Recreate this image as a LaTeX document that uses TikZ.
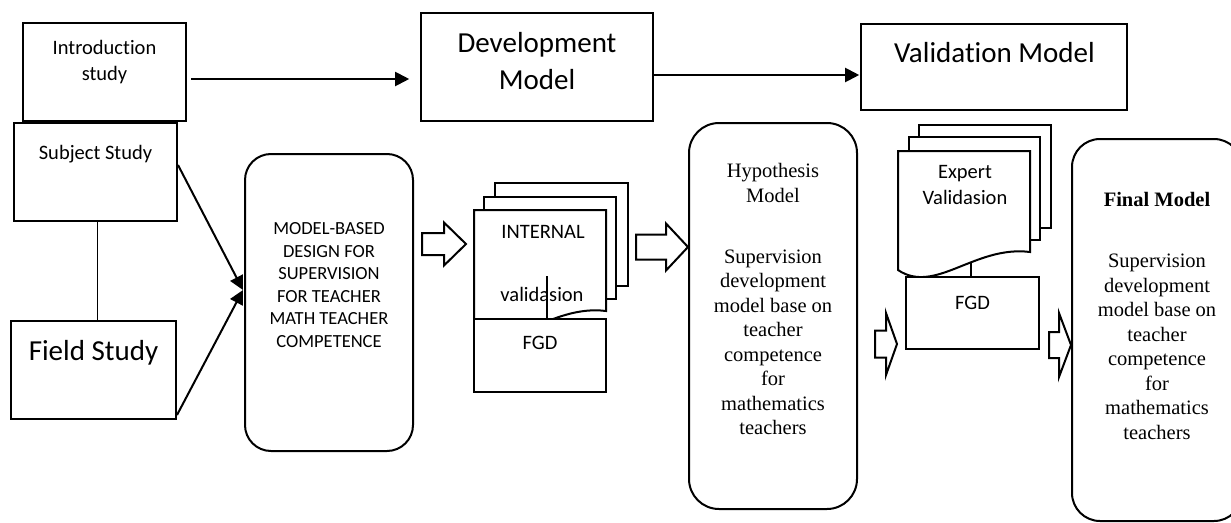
\documentclass[tikz,border=0pt]{standalone}
\usepackage{fontspec}
\setmainfont{Liberation Serif}
\newfontfamily\calfont[Ligatures=NoCommon]{Carlito}
\usetikzlibrary{arrows.meta,calc}

% block arrow: tip, total length, head length, shaft half-width, head half-width
\newcommand{\hollowarrow}[5]{%
  \draw[hollow] (#1) -- ++(-#3,-#5) -- ++(0,#5-#4) -- ++(#3-#2,0) -- ++(0,2*#4)
    -- ++(#2-#3,0) -- ++(0,#5-#4) -- cycle;}

\begin{document}
\begin{tikzpicture}[x=1pt,y=-1pt,
  box/.style={draw,line width=2pt,fill=white,inner sep=0pt},
  thinbox/.style={box,line width=1.6pt},
  rbox/.style={box,rounded corners=28pt},
  page/.style={draw,line width=2pt,fill=white,line join=miter},
  arr/.style={line width=2pt,-{Triangle[length=14pt,width=14pt]}},
  link/.style={line width=1pt},
  hollow/.style={draw,line width=2pt,fill=white,line join=miter},
  sans/.style={align=center,inner sep=0pt,font=\calfont\fontsize{20.5}{26}\selectfont},
  bigsans/.style={align=center,inner sep=0pt,font=\calfont\fontsize{29}{37}\selectfont},
  capsans/.style={align=center,inner sep=0pt,font=\calfont\fontsize{18.5}{22.5}\selectfont},
  serif/.style={align=center,inner sep=0pt,font=\fontsize{20.5}{24.5}\selectfont}]
\useasboundingbox (0,0) rectangle (1231,522);
\clip (0,0) rectangle (1231,522);

% left column: studies
\node[box,minimum width=163pt,minimum height=98pt] (intro) at (104.5,72) {};
\node[sans] (introtxt) at (104.5,62) {Introduction\\study};
\node[box,minimum width=163pt,minimum height=98pt] (subject) at (95.5,172) {};
\node[sans] (subjecttxt) at (95.5,154) {Subject Study};
\node[box,minimum width=165pt,minimum height=98pt] (field) at (93.5,370) {};
\node[bigsans] (fieldtxt) at (93.5,353) {Field Study};
\draw[link] ($(subject.south)+(1.5,0)$) -- ($(field.north)+(3.5,0)$);

% model design
\node[rbox,rounded corners=26pt,minimum width=168pt,minimum height=297pt] (model) at (329,302.5) {};
\node[capsans] (modeltxt) at (329,285) {MODEL-BASED\\DESIGN FOR\\SUPERVISION\\FOR TEACHER\\MATH TEACHER\\COMPETENCE};
\coordinate (modelin) at ($(model.west)+(-1,-12.5)$);
\draw[arr] ($(subject.east)+(0,-7)$) -- (modelin);
\draw[arr] ($(field.east)+(0,45)$) -- (modelin);

% top row
\node[thinbox,minimum width=232pt,minimum height=108pt] (dev) at (537,67) {};
\node[bigsans] (devtxt) at (537,61.5) {Development\\Model};
\node[thinbox,minimum width=266pt,minimum height=86pt] (val) at (994,67) {};
\node[bigsans] (valtxt) at (994.5,53) {Validation Model};
\draw[arr] ($(intro.east)+(4,7)$) -- ($(intro.east -| dev.west)+(-11,7)$);
\draw[arr] ($(dev.east)+(0,8)$) -- ($(dev.east -| val.west)+(-1,8)$);

% internal validation stack
\node[box,minimum width=133pt,minimum height=103pt] (inback) at (561.5,234.5) {};
\node[box,minimum width=132pt,minimum height=102pt] (inmid) at (550,248) {};
\begin{scope}[shift={(474,210)}]
  \draw[page] (0,0) -- (132,0) -- (132,101) .. controls (77,94) and (37,144) .. (0,119) -- cycle;
\end{scope}
\node[sans] (intxt) at (543,232) {INTERNAL};
\node[sans] (valtxt2) at (542,294) {validasion};
\node[box,minimum width=132pt,minimum height=73pt] (fgd1) at (540,355.5) {};
\node[sans] (fgd1txt) at (540,343) {FGD};
\draw[line width=2pt] ($(fgd1.north)+(7,0)$) -- ++(0,-42);

% hypothesis model
\node[rbox,rounded corners=30pt,minimum width=168pt,minimum height=386pt] (hyp) at (773,316) {};
\node[serif] (hyptitle) at (773,183) {Hypothesis\\Model};
\node[serif] (hypbody) at (773,342.5) {Supervision\\development\\model base on\\teacher\\competence\\for\\mathematics\\teachers};

% expert validation stack
\node[box,minimum width=132pt,minimum height=103pt] (exback) at (985,176.5) {};
\node[box,minimum width=131pt,minimum height=103pt] (exmid) at (974.5,188.5) {};
\begin{scope}[shift={(898,151)}]
  \draw[page] (0,0) -- (132,0) -- (132,101) .. controls (77,94) and (37,144) .. (0,119) -- cycle;
\end{scope}
\node[sans] (extxt) at (965,185) {Expert\\Validasion};
\node[box,minimum width=133pt,minimum height=72pt] (fgd2) at (972.5,313) {};
\node[sans] (fgd2txt) at (972.5,303) {FGD};
\draw[link] ($(val.south)+(-27,0)$) -- ($(val.south)+(-27,0)$ |- exback.north);
\draw[line width=1.5pt] ($(fgd2.north)+(-1.5,0)$) -- ++(0,-14);

% final model
\node[rbox,rounded corners=28pt,minimum width=170pt,minimum height=382pt] (final) at (1157,330) {};
\node[serif,font=\bfseries\fontsize{20.5}{24.5}\selectfont] (finaltitle) at (1157,199) {Final Model};
\node[serif] (finalbody) at (1157,347) {Supervision\\development\\model base on\\teacher\\competence\\for\\mathematics\\teachers};

% block arrows between stages
\coordinate (a1) at ($(model.east)+(52,-58.5)$);
\coordinate (a2) at ($(hyp.west)+(0,-69)$);
\coordinate (a3) at ($(fgd2.west)+(-8,31)$);
\coordinate (a4) at ($(final.west)+(0,15)$);
\hollowarrow{a1}{44}{22}{11}{21.5}
\hollowarrow{a2}{52}{22}{12.5}{23.5}
\hollowarrow{a3}{22}{11}{13.5}{31}
\hollowarrow{a4}{22}{12}{13}{32}
\end{tikzpicture}
\end{document}
